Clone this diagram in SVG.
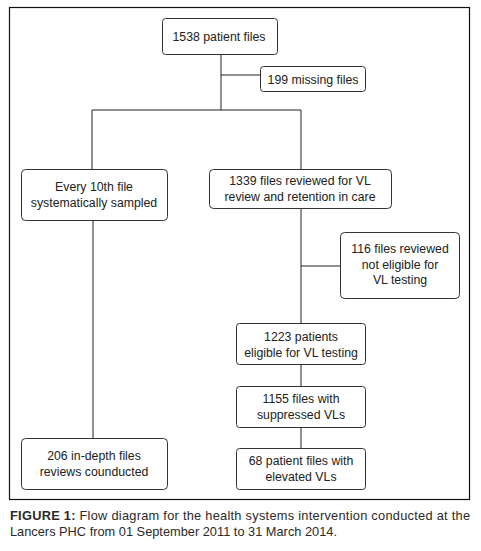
<svg xmlns="http://www.w3.org/2000/svg" width="481" height="551" viewBox="0 0 481 551">
<style>
.box{fill:#fff;stroke:#333;stroke-width:1}
.t{font-family:"Liberation Sans",Arial,sans-serif;font-size:12.3px;fill:#222;text-anchor:middle}
.c{stroke:#222;stroke-width:1;fill:none}
.cap{font-family:"Liberation Sans",Arial,sans-serif;font-size:12.8px;fill:#2a2a2a}
</style>
<rect x="0" y="0" width="481" height="551" fill="#fff"/>
<rect x="9.5" y="7.5" width="460" height="492" fill="none" stroke="#111" stroke-width="1.2"/>
<g id="connectors">
<path class="c" d="M221 54V110M221 75H260M92 110H301M92 110V169M301 110V169M93 220V438M301 208V323M301 266H340M301 364V386M301 427V448"/>
</g>
<g id="n1538"><rect class="box" x="162.5" y="18.5" width="115" height="36" rx="3"/><text class="t" x="219" y="40.5">1538 patient files</text></g>
<g id="n199"><rect class="box" x="260.5" y="66.5" width="105" height="25" rx="3"/><text class="t" x="313" y="83.5">199 missing files</text></g>
<g id="nEvery"><rect class="box" x="21.5" y="169.5" width="146" height="51" rx="4"/><text class="t" x="94" y="190.5">Every 10th file</text><text class="t" x="94" y="206.5">systematically sampled</text></g>
<g id="n1339"><rect class="box" x="209.5" y="169.5" width="182" height="39" rx="4"/><text class="t" x="300" y="184.5">1339 files reviewed for VL</text><text class="t" x="300" y="200.5">review and retention in care</text></g>
<g id="n116"><rect class="box" x="340.5" y="232.5" width="119" height="66" rx="4"/><text class="t" x="400" y="252.5">116 files reviewed</text><text class="t" x="400" y="268.5">not eligible for</text><text class="t" x="400" y="283.5">VL testing</text></g>
<g id="n1223"><rect class="box" x="236.5" y="323.5" width="129" height="41" rx="3"/><text class="t" x="301" y="340.5">1223 patients</text><text class="t" x="301" y="356.5">eligible for VL testing</text></g>
<g id="n1155"><rect class="box" x="236.5" y="386.5" width="129" height="41" rx="3"/><text class="t" x="301" y="402.5">1155 files with</text><text class="t" x="301" y="418.5">suppressed VLs</text></g>
<g id="n68"><rect class="box" x="236.5" y="448.5" width="129" height="41" rx="3"/><text class="t" x="301" y="464.5">68 patient files with</text><text class="t" x="301" y="480.5">elevated VLs</text></g>
<g id="n206"><rect class="box" x="21.5" y="438.5" width="146" height="51" rx="4"/><text class="t" x="94" y="459.5">206 in-depth files</text><text class="t" x="94" y="475.5">reviews counducted</text></g>
<text class="cap" x="10" y="519.5" textLength="460" lengthAdjust="spacing"><tspan font-weight="bold">FIGURE 1:</tspan> Flow diagram for the health systems intervention conducted at the</text>
<text class="cap" x="10" y="535.5">Lancers PHC from 01 September 2011 to 31 March 2014.</text>
</svg>
